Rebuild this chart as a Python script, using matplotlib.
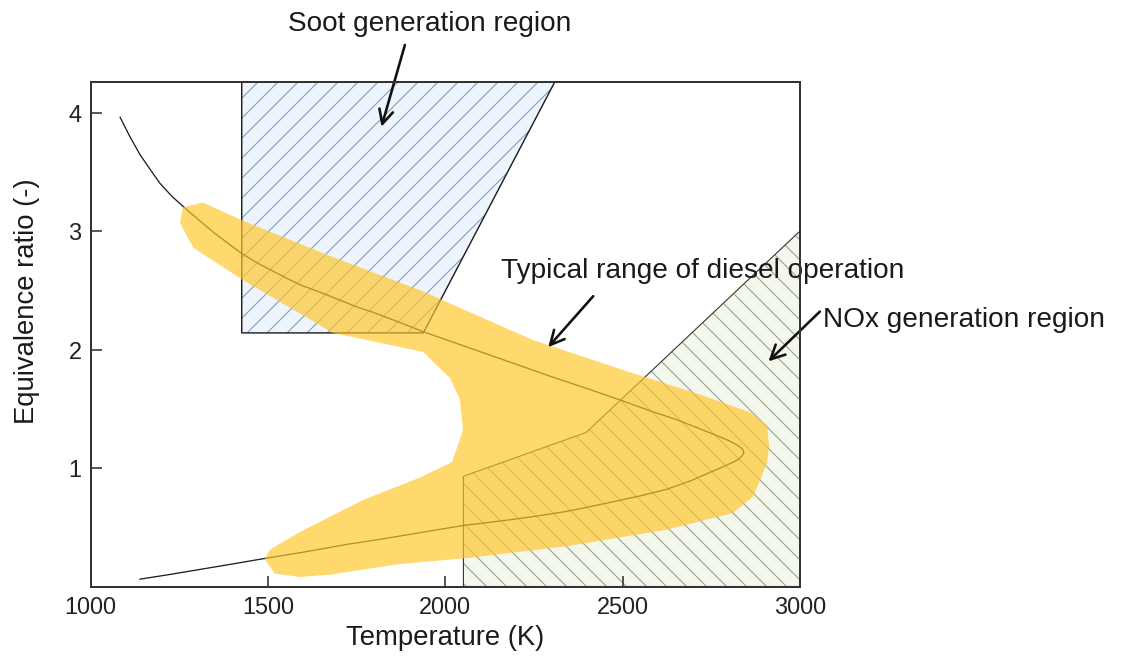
import matplotlib
matplotlib.use("Agg")
import matplotlib.pyplot as plt
from matplotlib.patches import Polygon

# Hatch tiles are one inch square, so a low dpi gives tighter hatch spacing
DPI = 60


def px(v):
    # pixel size -> points at the working dpi
    return v * 72 / DPI


plt.rcParams["font.family"] = ["Liberation Sans", "DejaVu Sans"]

# Axis ranges and ticks
T_MIN, T_MAX = 1000, 3000
PHI_MIN, PHI_MAX = 0, 4.26
x_ticks = [1000, 1500, 2000, 2500, 3000]
y_ticks = [1, 2, 3, 4]

# Adiabatic flame temperature vs equivalence ratio
curve_temp = [1083, 1110, 1140, 1170, 1196, 1230, 1271, 1310, 1350, 1390, 1426,
              1470, 1515, 1560, 1600, 1650, 1700, 1750, 1800, 1870, 1938, 2100,
              2200, 2300, 2400, 2492, 2580, 2650, 2710, 2760, 2800, 2825, 2838,
              2842, 2836, 2825, 2805, 2775, 2740, 2690, 2624, 2550, 2480, 2410,
              2342, 2270, 2200, 2120, 2051, 1980, 1900, 1820, 1722, 1600, 1487,
              1400, 1300, 1220, 1139]
curve_phi = [3.96, 3.80, 3.64, 3.51, 3.40, 3.29, 3.18, 3.08, 2.98, 2.89, 2.81,
             2.73, 2.66, 2.59, 2.535, 2.48, 2.42, 2.36, 2.31, 2.23, 2.15, 1.98,
             1.875, 1.77, 1.67, 1.575, 1.48, 1.41, 1.34, 1.28, 1.23, 1.19, 1.16,
             1.13, 1.10, 1.07, 1.04, 1.00, 0.955, 0.89, 0.82, 0.765, 0.72, 0.675,
             0.634, 0.60, 0.57, 0.54, 0.515, 0.48, 0.44, 0.40, 0.355, 0.29, 0.235,
             0.19, 0.14, 0.10, 0.062]

# Outline of the typical diesel operating band
band_temp = [1260, 1317, 1427, 1666, 1929, 2247, 2529, 2718, 2859, 2907, 2913,
             2907, 2868, 2811, 2625, 2343, 2061, 1872, 1675, 1590, 1519, 1491,
             1505, 1590, 1768, 1929, 2019, 2050, 2041, 2013, 1937, 1683, 1427,
             1289, 1252]
band_phi = [3.20, 3.24, 3.09, 2.80, 2.50, 2.08, 1.80, 1.62, 1.47, 1.36, 1.18,
            1.04, 0.76, 0.62, 0.48, 0.34, 0.24, 0.19, 0.10, 0.08, 0.11, 0.23,
            0.31, 0.46, 0.73, 0.92, 1.05, 1.32, 1.58, 1.76, 1.98, 2.14, 2.59,
            2.86, 3.07]

# Soot and NOx formation regions
soot_temp = [1426, 1426, 1938, 2309]
soot_phi = [4.26, 2.14, 2.14, 4.26]
nox_temp = [2051, 2051, 2397, 3000, 3000]
nox_phi = [0, 0.93, 1.30, 3.0, 0]

# Labels with (text position, arrow tail, arrow head)
labels = ["Soot generation region", "Typical range of diesel operation", "NOx generation region"]
label_pos = [(1957, 4.75), (2727, 2.66), (3462, 2.25)]
arrow_tail = [(1886, 4.57), (2417, 2.45), (3056, 2.32)]
arrow_head = [(1820, 3.88), (2290, 2.02), (2911, 1.90)]


def main():
    fig = plt.figure(figsize=(1122 / DPI, 661 / DPI), dpi=DPI)
    ax = fig.add_axes([0.0808, 0.1127, 0.6322, 0.7637])

    plt.rcParams["hatch.linewidth"] = px(1.1)

    soot = Polygon(list(zip(soot_temp, soot_phi)), closed=True,
                   facecolor="#edf4fc", edgecolor="#7f9dcc", hatch="/",
                   linewidth=0, zorder=1)
    nox = Polygon(list(zip(nox_temp, nox_phi)), closed=True,
                  facecolor="#f3f7ec", edgecolor="#98a38c", hatch="\\",
                  linewidth=0, zorder=1)
    ax.add_patch(soot)
    ax.add_patch(nox)

    # Region outlines
    ax.add_patch(Polygon(list(zip(soot_temp, soot_phi)), closed=True, fill=False,
                         edgecolor="#1a1a1a", linewidth=px(1.4), zorder=2))
    ax.add_patch(Polygon(list(zip(nox_temp, nox_phi)), closed=True, fill=False,
                         edgecolor="#333333", linewidth=px(1.1), zorder=2))

    ax.plot(curve_temp, curve_phi, color="#1e1e1e", linewidth=px(1.3), zorder=2)

    band = Polygon(list(zip(band_temp, band_phi)), closed=True,
                   facecolor="#ffc62a", edgecolor="none", alpha=0.68, zorder=3)
    ax.add_patch(band)

    for text, pos, tail, head in zip(labels, label_pos, arrow_tail, arrow_head):
        ax.text(pos[0], pos[1], text, fontsize=px(28), color="#1a1a1a",
                ha="center", va="center", clip_on=False)
        ax.annotate("", xy=head, xytext=tail, annotation_clip=False,
                    arrowprops=dict(arrowstyle="->,head_length=0.7,head_width=0.35",
                                    lw=px(2.6), color="#111111",
                                    mutation_scale=px(20), shrinkA=0, shrinkB=0))

    ax.set_xlim(T_MIN, T_MAX)
    ax.set_ylim(PHI_MIN, PHI_MAX)
    ax.set_xticks(x_ticks)
    ax.set_yticks(y_ticks)
    ax.tick_params(direction="in", length=px(11), width=px(1.6), color="#333333",
                   labelsize=px(23.5), labelcolor="#222222", pad=px(9))

    for spine in ax.spines.values():
        spine.set_linewidth(px(2))
        spine.set_color("#333333")
        spine.set_zorder(5)

    ax.set_xlabel("Temperature (K)", fontsize=px(27.5), color="#1a1a1a")
    ax.set_ylabel("Equivalence ratio (-)", fontsize=px(27.5), color="#1a1a1a")
    ax.xaxis.set_label_coords(0.5, -0.076)
    ax.yaxis.set_label_coords(-0.072, 0.566)

    fig.savefig("out.png", dpi=DPI)


if __name__ == "__main__":
    main()
